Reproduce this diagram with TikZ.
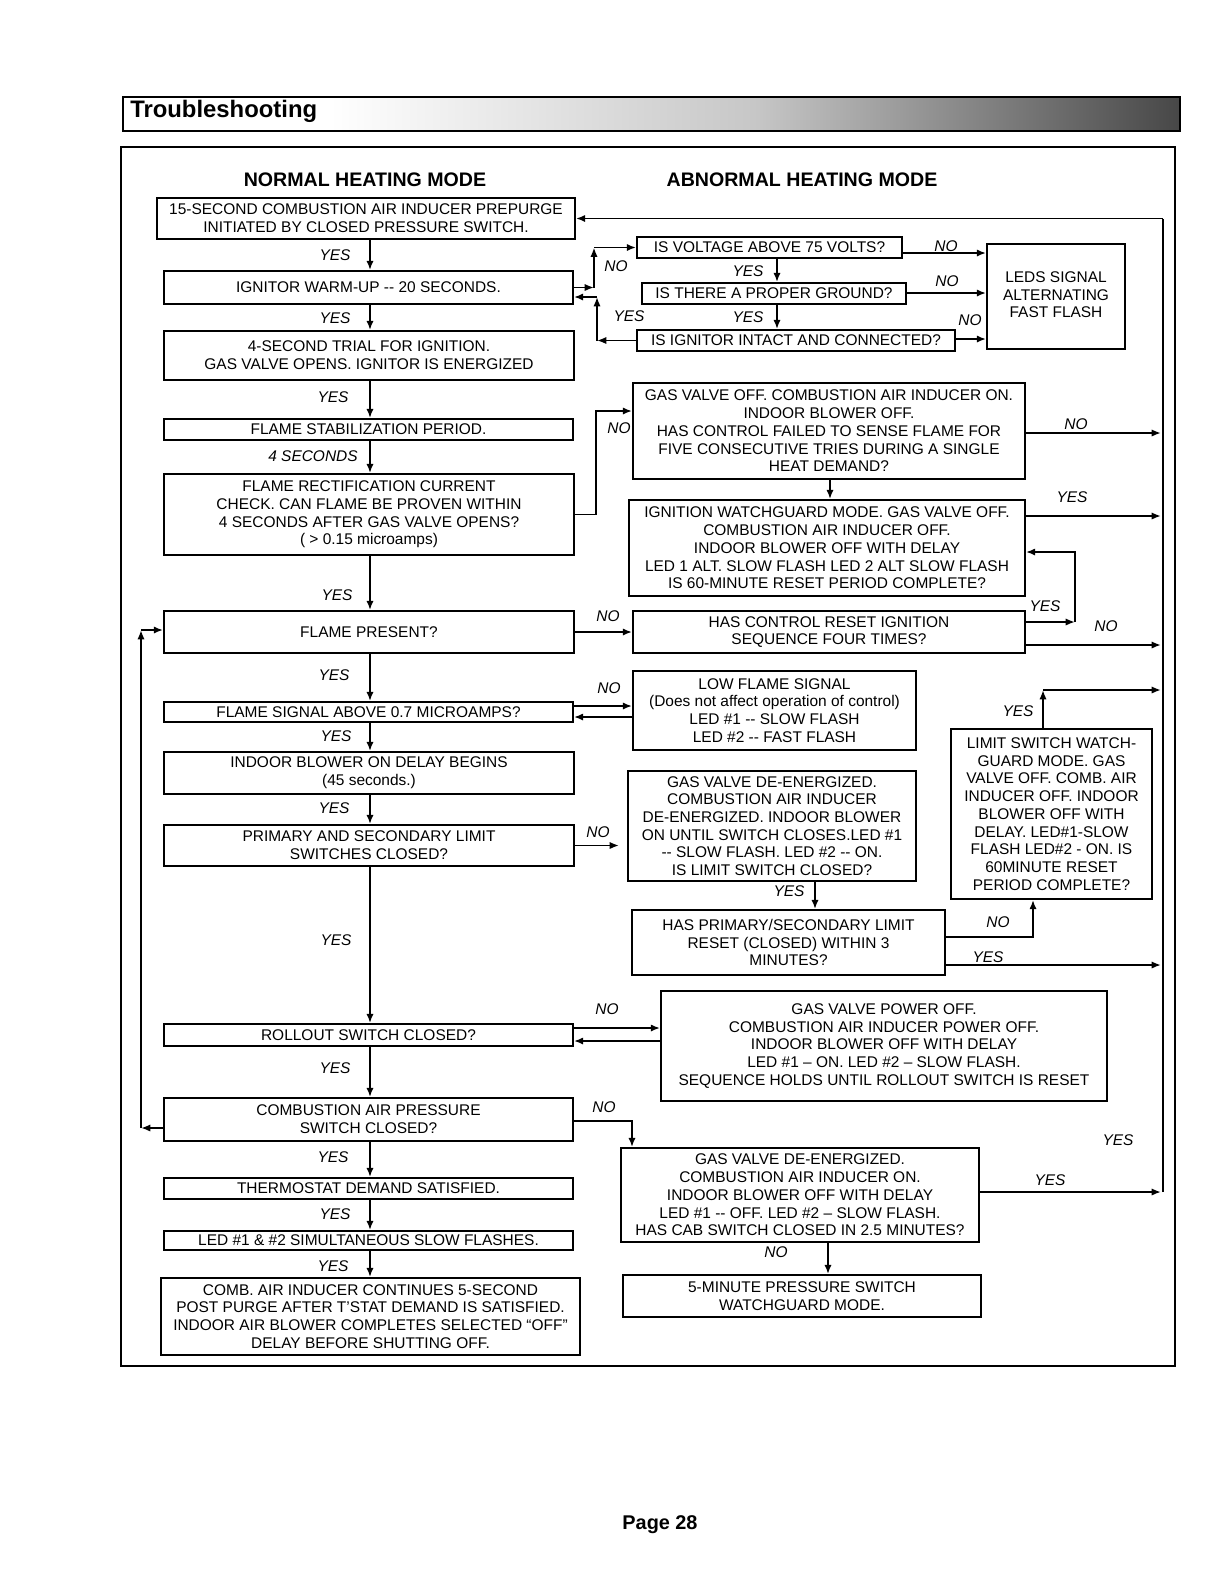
\documentclass[tikz,border=0pt]{standalone}
\usepackage{fontspec}
\setmainfont{Liberation Sans}
\usetikzlibrary{arrows.meta}
\newcommand\bxfont{\fontsize{11.6}{13.3}\selectfont}
\newcommand\lblfont{\fontsize{11.6}{13.3}\selectfont\itshape}
\newcommand\ttlfont{\fontsize{14.7}{16}\selectfont\bfseries}
\begin{document}
\begin{tikzpicture}[x=0.75pt,y=-0.75pt,
 box/.style={draw, line width=1.35pt, inner sep=0pt, align=center, font=\bxfont},
 bb/.style n args={4}{minimum width={(#3-#1)*0.75pt}, minimum height={(#4-#2)*0.75pt}, at={({(#1+#3)/2},{(#2+#4)/2})}},
 lbl/.style={font=\lblfont, inner sep=0pt},
 arr/.style={line width=1.4pt, -{Latex[length=7pt,width=5.5pt]}},
 ln/.style={line width=1.4pt}]
\useasboundingbox (0,0) rectangle (1210,1572);
% header
\shade[left color=white, right color=black!72, middle color=black!22] (330,98) rectangle (1179,130);
\draw[line width=1.5pt] (123,97) rectangle (1180,131);
\node[anchor=west, font=\fontsize{17.9}{20}\selectfont\bfseries, inner sep=0pt] (hd) at (130,111) {Troubleshooting};
% frame
\draw[line width=2pt] (121,147) rectangle (1175,1366);
\node[font=\ttlfont] (tn) at (365,180) {NORMAL HEATING MODE};
\node[font=\ttlfont] (ta) at (802,180) {ABNORMAL HEATING MODE};
% left column
\node[box, bb={157}{198}{575}{239}] (b1) {15-SECOND COMBUSTION AIR INDUCER PREPURGE\\INITIATED BY CLOSED PRESSURE SWITCH.};
\node[box, bb={164}{271}{573}{304}] (b2) {IGNITOR WARM-UP -{}- 20 SECONDS.};
\node[box, bb={164}{331}{574}{380}] (b3) {4-SECOND TRIAL FOR IGNITION.\\GAS VALVE OPENS. IGNITOR IS ENERGIZED};
\node[box, bb={164}{419}{573}{440}] (b4) {\raisebox{-2pt}{FLAME STABILIZATION PERIOD.}};
\node[box, bb={164}{474}{574}{555}] (b5) {FLAME RECTIFICATION CURRENT\\CHECK. CAN FLAME BE PROVEN WITHIN\\4 SECONDS AFTER GAS VALVE OPENS?\\( > 0.15 microamps)};
\node[box, bb={164}{611}{574}{653}] (b6) {FLAME PRESENT?};
\node[box, bb={164}{702}{573}{722}] (b7) {\raisebox{-2pt}{FLAME SIGNAL ABOVE 0.7 MICROAMPS?}};
\node[box, bb={164}{752}{574}{794}] (b8) {INDOOR BLOWER ON DELAY BEGINS\\(45 seconds.)};
\node[box, bb={164}{825}{574}{866}] (b9) {PRIMARY AND SECONDARY LIMIT\\SWITCHES CLOSED?};
\node[box, bb={164}{1024}{573}{1046}] (b10) {ROLLOUT SWITCH CLOSED?};
\node[box, bb={164}{1098}{573}{1141}] (b11) {COMBUSTION AIR PRESSURE\\SWITCH CLOSED?};
\node[box, bb={164}{1178}{573}{1199}] (b12) {\raisebox{-2pt}{THERMOSTAT DEMAND SATISFIED.}};
\node[box, bb={164}{1231}{573}{1250}] (b13) {\raisebox{-2pt}{LED \#1 \& \#2 SIMULTANEOUS SLOW FLASHES.}};
\node[box, bb={161}{1278}{580}{1355}] (b14) {COMB. AIR INDUCER CONTINUES 5-SECOND\\POST PURGE AFTER T'STAT DEMAND IS SATISFIED.\\INDOOR AIR BLOWER COMPLETES SELECTED “OFF”\\DELAY BEFORE SHUTTING OFF.};
% right column
\node[box, bb={637}{237}{902}{258}] (v1) {IS VOLTAGE ABOVE 75 VOLTS?};
\node[box, bb={642}{283}{906}{304}] (v2) {IS THERE A PROPER GROUND?};
\node[box, bb={637}{330}{955}{351}] (v3) {IS IGNITOR INTACT AND CONNECTED?};
\node[box, bb={987}{244}{1125}{349}] (leds) {\raisebox{4pt}{\begin{tabular}{@{}c@{}}LEDS SIGNAL\\ALTERNATING\\FAST FLASH\end{tabular}}};
\node[box, bb={633}{383}{1025}{479}] (g1) {GAS VALVE OFF. COMBUSTION AIR INDUCER ON.\\INDOOR BLOWER OFF.\\HAS CONTROL FAILED TO SENSE FLAME FOR\\FIVE CONSECUTIVE TRIES DURING A SINGLE\\HEAT DEMAND?};
\node[box, bb={629}{500}{1025}{596}] (g2) {IGNITION WATCHGUARD MODE. GAS VALVE OFF.\\COMBUSTION AIR INDUCER OFF.\\INDOOR BLOWER OFF WITH DELAY\\LED 1 ALT. SLOW FLASH LED 2 ALT SLOW FLASH\\IS 60-MINUTE RESET PERIOD COMPLETE?};
\node[box, bb={633}{611}{1025}{653}] (g3) {HAS CONTROL RESET IGNITION\\SEQUENCE FOUR TIMES?};
\node[box, bb={633}{671}{916}{750}] (lf) {LOW FLAME SIGNAL\\(Does not affect operation of control)\\LED \#1 -{}- SLOW FLASH\\LED \#2 -{}- FAST FLASH};
\node[box, bb={628}{771}{916}{881}] (ls) {GAS VALVE DE-ENERGIZED.\\COMBUSTION AIR INDUCER\\DE-ENERGIZED. INDOOR BLOWER\\ON UNTIL SWITCH CLOSES.LED \#1\\-{}- SLOW FLASH. LED \#2 -{}- ON.\\IS LIMIT SWITCH CLOSED?};
\node[box, bb={632}{910}{945}{975}] (pr) {HAS PRIMARY/SECONDARY LIMIT\\RESET (CLOSED) WITHIN 3\\MINUTES?};
\node[box, bb={951}{729}{1152}{899}] (lw) {LIMIT SWITCH WATCH-\\GUARD MODE. GAS\\VALVE OFF. COMB. AIR\\INDUCER OFF. INDOOR\\BLOWER OFF WITH\\DELAY. LED\#1-SLOW\\FLASH LED\#2 - ON. IS\\60MINUTE RESET\\PERIOD COMPLETE?};
\node[box, bb={661}{991}{1107}{1101}] (ro) {GAS VALVE POWER OFF.\\COMBUSTION AIR INDUCER POWER OFF.\\INDOOR BLOWER OFF WITH DELAY\\LED \#1 – ON. LED \#2 – SLOW FLASH.\\SEQUENCE HOLDS UNTIL ROLLOUT SWITCH IS RESET};
\node[box, bb={621}{1148}{979}{1242}] (cab) {GAS VALVE DE-ENERGIZED.\\COMBUSTION AIR INDUCER ON.\\INDOOR BLOWER OFF WITH DELAY\\LED \#1 -{}- OFF. LED \#2 – SLOW FLASH.\\HAS CAB SWITCH CLOSED IN 2.5 MINUTES?};
\node[box, bb={623}{1275}{981}{1317}] (ps) {5-MINUTE PRESSURE SWITCH\\WATCHGUARD MODE.};
% helper coordinates
\coordinate (sp) at (370,0);
\coordinate (rl) at (1161,0);
\coordinate (x777) at (777,0);
\coordinate (x830) at (830,0);
\coordinate (x815) at (815,0);
\coordinate (x828) at (828,0);
\coordinate (x1033) at (1033,0);
\coordinate (x1043) at (1043,0);
\coordinate (x632) at (632,0);
% left spine arrows
\foreach \a/\b in {b1/b2,b2/b3,b3/b4,b4/b5,b5/b6,b6/b7,b7/b8,b8/b9,b9/b10,b10/b11,b11/b12,b12/b13,b13/b14}
  \draw[arr] (sp |- \a.south) -- (sp |- \b.north);
\node[lbl] (l1) at (335,255) {YES};
\node[lbl] (l2) at (335,318) {YES};
\node[lbl] (l3) at (333,397) {YES};
\node[lbl] (l4) at (313,456) {4 SECONDS};
\node[lbl] (l5) at (337,595) {YES};
\node[lbl] (l6) at (334,675) {YES};
\node[lbl] (l7) at (336,736) {YES};
\node[lbl] (l8) at (334,808) {YES};
\node[lbl] (l9) at (336,940) {YES};
\node[lbl] (l10) at (335,1068) {YES};
\node[lbl] (l11) at (333,1157) {YES};
\node[lbl] (l12) at (335,1214) {YES};
\node[lbl] (l13) at (333,1266) {YES};
% ignitor checks
\coordinate (c1) at (594,287.5);
\coordinate (c2) at (594,247.5);
\draw[arr] (b2.east) -- (c1);
\draw[arr] (c1) -- (c2);
\draw[arr] (c2) -- (v1.west);
\node[lbl] (n1) at (616,266) {NO};
\coordinate (c3) at (597,340.5);
\coordinate (c4) at (597,297);
\draw[arr] (v3.west) -- (c3);
\draw[arr] (c3) -- (c4);
\draw[arr] (c4) -- (b2.east |- c4);
\node[lbl] (y1) at (629,316) {YES};
\draw[arr] (x777 |- v1.south) -- (x777 |- v2.north);
\node[lbl] (y2) at (748,271) {YES};
\draw[arr] (x777 |- v2.south) -- (x777 |- v3.north);
\node[lbl] (y3) at (748,317) {YES};
\coordinate (y253) at (0,253);
\coordinate (y292) at (0,293);
\coordinate (y338) at (0,339);
\draw[arr] (v1.east |- y253) -- (leds.west |- y253);
\draw[arr] (v2.east |- y292) -- (leds.west |- y292);
\draw[arr] (v3.east |- y338) -- (leds.west |- y338);
\node[lbl] (n2) at (946,246) {NO};
\node[lbl] (n3) at (947,281) {NO};
\node[lbl] (n4) at (970,320) {NO};
% flame proving
\coordinate (c5) at (596,411);
\draw[arr] (b5.east) -| (c5) -- (g1.west |- c5);
\node[lbl] (n5) at (619,428) {NO};
\coordinate (y433) at (0,433);
\draw[arr] (g1.east |- y433) -- (rl |- y433);
\node[lbl] (n6) at (1076,424) {NO};
\draw[arr] (x830 |- g1.south) -- (x830 |- g2.north);
\coordinate (y516) at (0,516);
\draw[arr] (g2.east |- y516) -- (rl |- y516);
\node[lbl] (y4) at (1072,497) {YES};
\draw[arr] (b6.east) -- (g3.west);
\node[lbl] (n7) at (608,616) {NO};
\coordinate (c6) at (1075,622);
\coordinate (c7) at (1075,552);
\draw[arr] (g3.east |- c6) -- (c6);
\draw[arr] (c6) -- (c7) -- (g2.east |- c7);
\node[lbl] (y5) at (1045,606) {YES};
\coordinate (y645) at (0,645);
\draw[arr] (g3.east |- y645) -- (rl |- y645);
\node[lbl] (n8) at (1106,626) {NO};
% low flame
\coordinate (y706) at (0,706);
\coordinate (y717) at (0,717);
\draw[arr] (b7.east |- y706) -- (lf.west |- y706);
\draw[arr] (lf.west |- y717) -- (b7.east |- y717);
\node[lbl] (n9) at (609,688) {NO};
% limit
\coordinate (c8) at (619,845.5);
\draw[arr] (b9.east) -- (c8);
\node[lbl] (n10) at (598,832) {NO};
\draw[arr] (x815 |- ls.south) -- (x815 |- pr.north);
\node[lbl] (y6) at (789,891) {YES};
\coordinate (y937) at (0,937);
\draw[arr] (pr.east |- y937) -| (x1033 |- lw.south);
\node[lbl] (n11) at (998,922) {NO};
\coordinate (y965) at (0,965);
\draw[arr] (pr.east |- y965) -- (rl |- y965);
\node[lbl] (y7) at (988,957) {YES};
\coordinate (c9) at (1043,690);
\draw[arr] (x1043 |- lw.north) -- (c9);
\draw[arr] (c9) -- (rl |- c9);
\node[lbl] (y8) at (1018,711) {YES};
% rollout
\coordinate (y1027) at (0,1028);
\coordinate (y1041) at (0,1041);
\draw[arr] (b10.east |- y1027) -- (ro.west |- y1027);
\draw[arr] (ro.west |- y1041) -- (b10.east |- y1041);
\node[lbl] (n12) at (607,1009) {NO};
% CAB
\coordinate (y1121) at (0,1121);
\draw[arr] (b11.east |- y1121) -| (x632 |- cab.north);
\node[lbl] (n13) at (604,1107) {NO};
\coordinate (y1192) at (0,1192);
\draw[arr] (cab.east |- y1192) -- (rl |- y1192);
\node[lbl] (y9) at (1050,1180) {YES};
\node[lbl] (y10) at (1118,1140) {YES};
\draw[arr] (x828 |- cab.south) -- (x828 |- ps.north);
\node[lbl] (n14) at (776,1252) {NO};
% right return line
\coordinate (rb) at (1163,1192);
\coordinate (rt) at (1163,218.5);
\draw[ln] (rb) -- (rt);
\draw[arr] (rt) -- (b1.east |- rt);
% left return line
\coordinate (c10) at (141,1128);
\coordinate (c11) at (141,630);
\draw[arr] (b11.west |- c10) -- (c10);
\draw[arr] (c10) -- (c11);
\draw[arr] (c11) -- (b6.west |- c11);
% page number
\node[font=\fontsize{14.9}{16}\selectfont\bfseries] (pg) at (660,1525) {Page 28};
\end{tikzpicture}
\end{document}
